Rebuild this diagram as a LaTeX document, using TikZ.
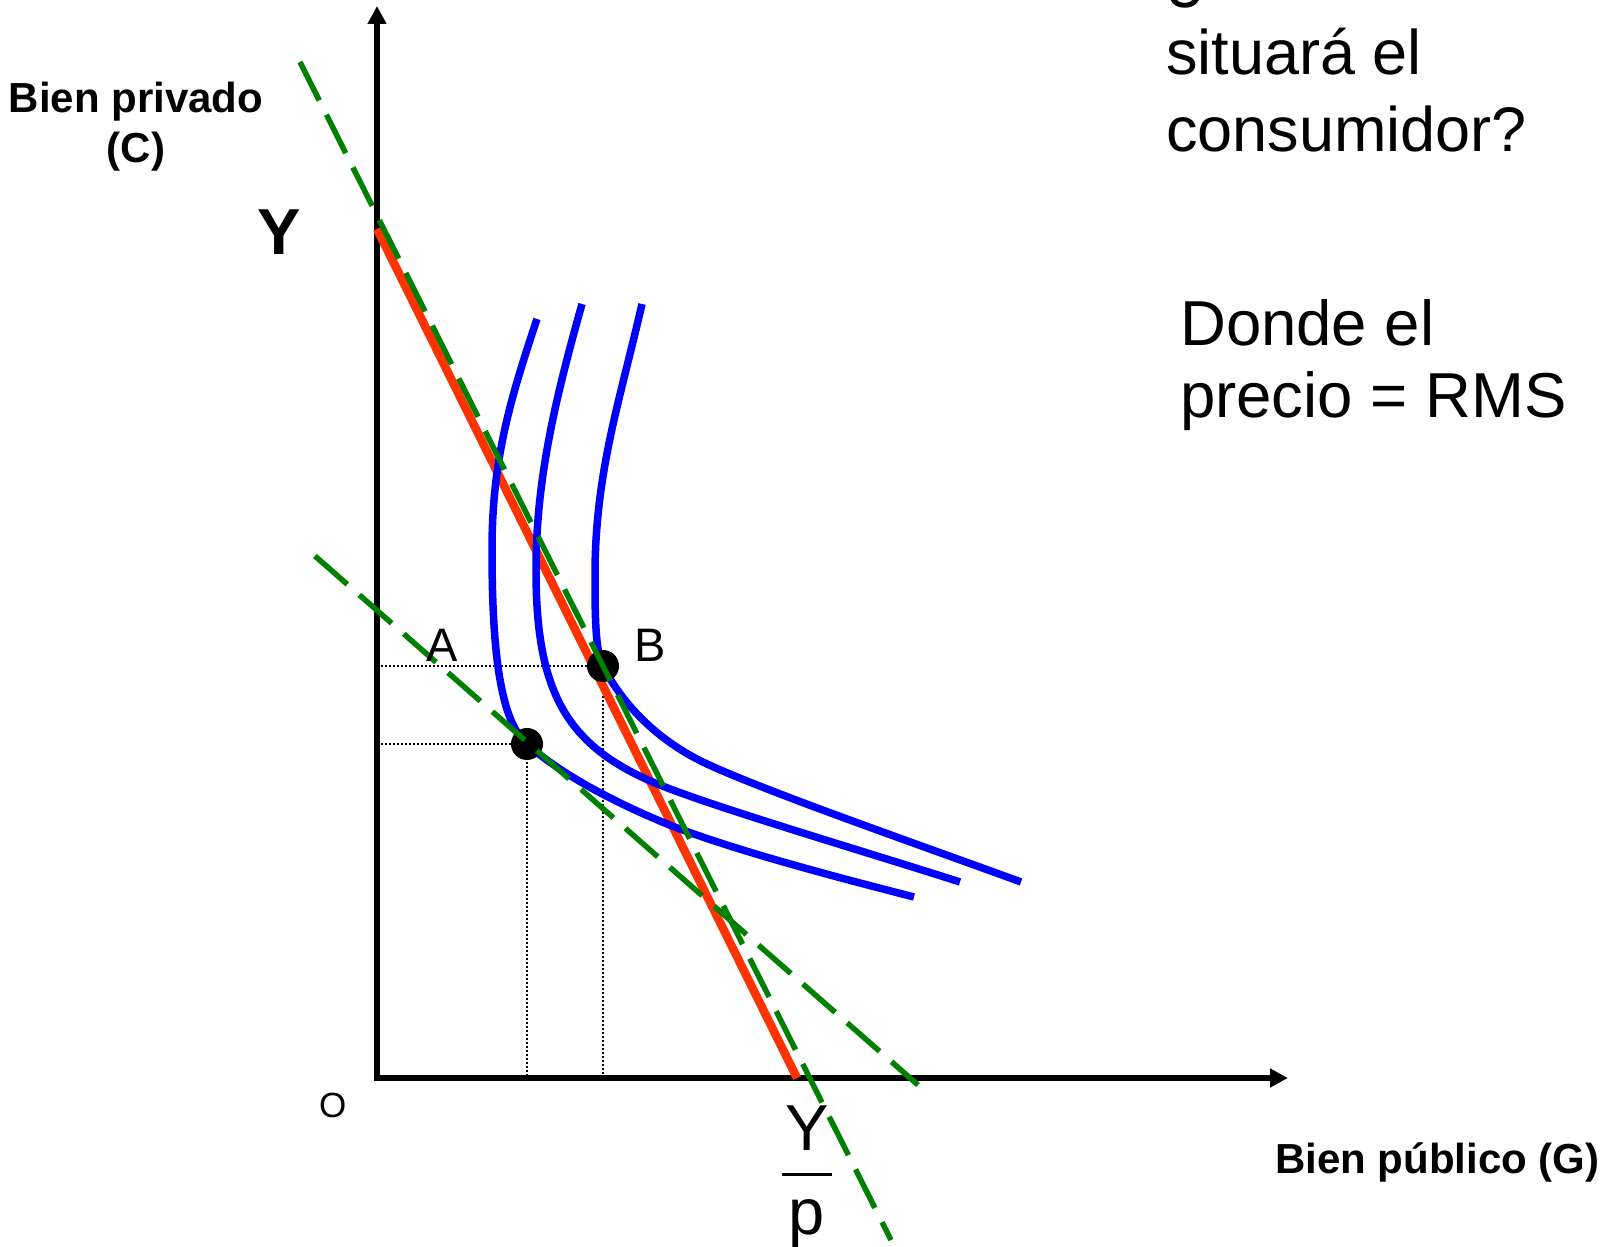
\documentclass[tikz,border=0pt]{standalone}
\usepackage{fontspec}
\setmainfont{Liberation Sans}
\usetikzlibrary{arrows.meta}

\definecolor{rojo}{RGB}{255,51,0}
\definecolor{verde}{RGB}{0,128,0}

\tikzset{
  eje/.style={line width=5.5pt},
  guia/.style={line width=2pt, dash pattern=on 2pt off 2pt},
  presupuesto/.style={line width=8.5pt, rojo},
  tangente/.style={line width=5.5pt, verde, dash pattern=on 43pt off 16pt},
  indif/.style={line width=7.5pt, blue},
  punto/.style={circle, fill=black, minimum size=32pt, inner sep=0pt},
  etq/.style={inner sep=0pt},
}

\begin{document}
\begin{tikzpicture}[x=1pt, y=1pt, >={Triangle[length=18pt,width=18pt]}]
    \clip (-377,-169) rectangle (1237,1078);

    % ejes
    \coordinate (O) at (0,0);
    \coordinate (xmax) at (911,0);
    \coordinate (ymax) at (0,1072);
    \draw[eje, <->] (ymax) -- (O) -- (xmax);

    % puntos de equilibrio
    \coordinate (a) at (150,334);
    \coordinate (b) at (226,412);

    % lineas de referencia
    \draw[guia] (O |- a) -- (a) -- (O -| a);
    \draw[guia] (O |- b) -- (b) -- (O -| b);

    % recta de presupuesto
    \coordinate (Ymax) at (0,849);
    \coordinate (Ypmax) at (420,0);
    \draw[presupuesto] (Ymax) -- (Ypmax);

    % curvas de indiferencia
    \draw[indif] (160,759) .. controls (133,678) and (115,618) .. (115,528)
        .. controls (115,428) and (123,357) .. (a)
        .. controls (188,300) and (248,271) .. (295,252)
        .. controls (363,226) and (463,200) .. (537,181);
    \draw[indif] (205,774) .. controls (178,678) and (159,598) .. (159,508)
        .. controls (159,388) and (188,333) .. (278,295)
        .. controls (333,272) and (483,228) .. (583,196);
    \draw[indif] (265,774) .. controls (243,678) and (219,608) .. (218,508)
        .. controls (218,463) and (218,428) .. (b)
        .. controls (238,388) and (268,343) .. (330,314)
        .. controls (393,285) and (543,233) .. (644,196);

    \node[punto] (pA) at (a) {};
    \node[punto] (pB) at (b) {};

    % tangentes
    \coordinate (t1a) at (-77,1016);
    \coordinate (t1b) at (514,-162);
    \draw[tangente] (t1a) -- (t1b);
    \coordinate (t2a) at (-62,522);
    \coordinate (t2b) at (541,-7);
    \draw[tangente] (t2a) -- (t2b);

    % etiquetas
    \node[etq, anchor=base west, font=\fontsize{47}{56}\selectfont] (labA) at (49,416) {A};
    \node[etq, anchor=base west, font=\fontsize{47}{56}\selectfont] (labB) at (257,416) {B};
    \node[etq, anchor=base west, font=\fontsize{35}{42}\selectfont] (labO) at (-58,-40) {O};
    \node[etq, anchor=base west, font=\bfseries\fontsize{65}{78}\selectfont] (labY) at (-120,823) {Y};
    \node[etq, anchor=base, font=\fontsize{65}{78}\selectfont] (labYp) at (430,-72)
        {\setlength{\tabcolsep}{3pt}\setlength{\arrayrulewidth}{3pt}%
         \begin{tabular}[t]{c}Y\\\hline\rule{0pt}{58pt}p\end{tabular}};
    \node[etq, anchor=base, align=center, font=\bfseries\fontsize{42}{50}\selectfont] (labC)
        at (-241,915) {Bien privado\\(C)};
    \node[etq, anchor=base west, font=\bfseries\fontsize{42}{50}\selectfont] (labG)
        at (898,-95) {Bien público (G)};
    \node[etq, anchor=base west, align=left, font=\fontsize{63}{77}\selectfont] (pregunta)
        at (789,926) {¿Dónde se\\situará el\\consumidor?};
    \node[etq, anchor=base west, align=left, font=\fontsize{63.5}{72}\selectfont] (respuesta)
        at (803,660) {Donde el\\precio = RMS};
\end{tikzpicture}
\end{document}
